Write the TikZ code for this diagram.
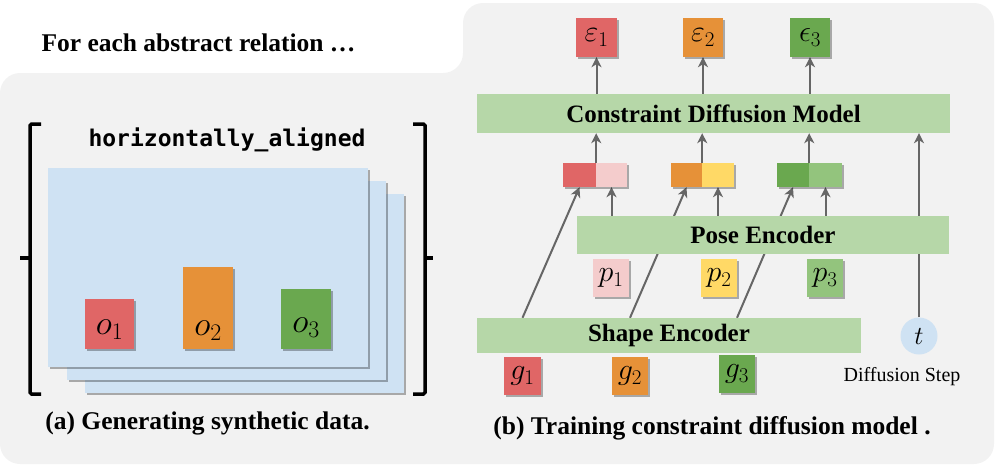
\RequirePackage{fix-cm}
\documentclass[tikz,border=0pt]{standalone}
\usepackage{fontspec}
\setmainfont{Liberation Serif}
\newfontfamily\monob{DejaVu Sans Mono}
\usetikzlibrary{arrows.meta,shadows}
\definecolor{bgray}{HTML}{F2F2F2}
\definecolor{pblue}{HTML}{CFE2F3}
\definecolor{cred}{HTML}{E06666}
\definecolor{corange}{HTML}{E69138}
\definecolor{cgreen}{HTML}{6AA84F}
\definecolor{cpink}{HTML}{F4CCCC}
\definecolor{cyellow}{HTML}{FFD966}
\definecolor{clgreen}{HTML}{93C47D}
\definecolor{encg}{HTML}{B6D7A8}
\definecolor{agray}{HTML}{666666}
\pgfdeclarelayer{bglayer}
\pgfdeclarelayer{linelayer}
\pgfsetlayers{bglayer,linelayer,main}
\tikzset{
  shad/.style={drop shadow={shadow xshift=2pt,shadow yshift=-2pt,opacity=0.3,fill=black}},
  panel/.style={fill=pblue,inner sep=0pt,shad},
  tok/.style={inner sep=0pt,shad,font=\fontsize{30}{30}\selectfont},
  enc/.style={fill=encg,inner sep=0pt,font=\fontsize{25}{28}\selectfont\bfseries},
  arr/.style={draw=agray,line width=2pt,-{Stealth[length=10pt,width=10pt,inset=3pt]}},
  brk/.style={line width=3.5pt,rounded corners=1.5pt},
  captxt/.style={font=\fontsize{25.5}{30}\selectfont\bfseries},
  olab/.style={font=\fontsize{34}{34}\selectfont}
}
\begin{document}
\begin{tikzpicture}[x=1pt,y=-1pt]
\useasboundingbox (0,0) rectangle (997,469);
\begin{pgfonlayer}{bglayer}
\fill[bgray,rounded corners=20pt] (0,464) -- (0,73) -- (463,73) -- (463,3) -- (994,3) -- (994,464) -- cycle;
\end{pgfonlayer}

% ---------- left panel ----------
\node[captxt] (title) at (198.5,43) {For each abstract relation …};
\node[font=\monob\bfseries\fontsize{23}{28}\selectfont] (rel) at (227,140) {horizontally\_aligned};
\draw[brk] (41,124) -- (30,124) -- (30,394) -- (41,394);
\draw[line width=3.5pt] (30,258) -- (20,258);
\draw[brk] (413,124) -- (425,124) -- (425,394) -- (413,394);
\draw[line width=3.5pt] (425,258) -- (433,258);

\node[panel,minimum width=319pt,minimum height=199pt] (pan3) at (244.5,293.5) {};
\node[panel,minimum width=319pt,minimum height=199pt] (pan2) at (226.5,280.5) {};
\node[panel,minimum width=320pt,minimum height=199pt] (pan1) at (208,267.5) {};

\node[fill=cred,inner sep=0pt,shad,minimum width=49pt,minimum height=50pt] (o1) at (109.5,324) {};
\node[fill=corange,inner sep=0pt,shad,minimum width=50pt,minimum height=82pt] (o2) at (208,308) {};
\node[fill=cgreen,inner sep=0pt,shad,minimum width=50pt,minimum height=60pt] (o3) at (306,319) {};
\node[olab] (lo1) at (o1.center |- 0,330) {$o_1$};
\node[olab] (lo2) at (o2.center |- 0,331) {$o_2$};
\node[olab] (lo3) at (o3.center |- 0,328) {$o_3$};

\node[captxt] (capa) at (207.5,423) {(a) Generating synthetic data.};

% ---------- right panel ----------
\node[tok,fill=cred,minimum width=41pt,minimum height=39pt] (e1) at (596.5,37.5) {$\varepsilon_1$};
\node[tok,fill=corange,minimum width=40pt,minimum height=39pt] (e2) at (703,37.5) {$\varepsilon_2$};
\node[tok,fill=cgreen,minimum width=40pt,minimum height=39pt] (e3) at (810,37.5) {$\epsilon_3$};

\node[enc,minimum width=473pt,minimum height=39pt] (cdm) at (713.5,113.5) {Constraint Diffusion Model};

\node[fill=cred,inner sep=0pt,shad,minimum width=33pt,minimum height=24pt] (c1a) at (579.5,175) {};
\node[fill=cpink,inner sep=0pt,shad,minimum width=31pt,minimum height=24pt] (c1b) at (611.5,175) {};
\node[fill=corange,inner sep=0pt,shad,minimum width=31pt,minimum height=24pt] (c2a) at (686.5,175) {};
\node[fill=cyellow,inner sep=0pt,shad,minimum width=32pt,minimum height=24pt] (c2b) at (718,175) {};
\node[fill=cgreen,inner sep=0pt,shad,minimum width=32pt,minimum height=24pt] (c3a) at (793,175) {};
\node[fill=clgreen,inner sep=0pt,shad,minimum width=33pt,minimum height=24pt] (c3b) at (825.5,175) {};

\node[enc,minimum width=372pt,minimum height=38pt] (pose) at (763,235) {Pose Encoder};

\node[tok,fill=cpink,minimum width=36pt,minimum height=38pt] (p1) at (611,278) {$p_1$};
\node[tok,fill=cyellow,minimum width=36pt,minimum height=38pt] (p2) at (719,278) {$p_2$};
\node[tok,fill=clgreen,minimum width=36pt,minimum height=38pt] (p3) at (825,278) {$p_3$};

\node[enc,minimum width=384pt,minimum height=35pt] (shape) at (669,335.5) {Shape Encoder};

\node[tok,fill=cred,minimum width=37pt,minimum height=38pt] (g1) at (522.5,376) {$g_1$};
\node[tok,fill=corange,minimum width=36pt,minimum height=38pt] (g2) at (630,376) {$g_2$};
\node[tok,fill=cgreen,minimum width=36pt,minimum height=38pt] (g3) at (737,374) {$g_3$};

\node[circle,fill=pblue,inner sep=0pt,minimum size=37pt,font=\fontsize{26}{26}\selectfont] (t) at (919,336) {$t$};
\node[font=\fontsize{20}{24}\selectfont] (dstep) at (902,377) {Diffusion Step};

\node[captxt] (capb) at (712,428) {(b) Training constraint diffusion model .};

\begin{pgfonlayer}{linelayer}
\draw[arr] (cdm.north -| e1.south) -- (e1.south);
\draw[arr] (cdm.north -| e2.south) -- (e2.south);
\draw[arr] (cdm.north -| e3.south) -- (e3.south);
\draw[arr] (c1a.north east) -- (cdm.south -| c1a.north east);
\draw[arr] (c2a.north east) -- (cdm.south -| c2a.north east);
\draw[arr] (c3a.north east) -- (cdm.south -| c3a.north east);
\draw[arr] (pose.north -| c1b.south) -- (c1b.south);
\draw[arr] (pose.north -| c2b.south) -- (c2b.south);
\draw[arr] (pose.north -| c3b.south) -- (c3b.south);
\draw[arr] (shape.north -| g1.north) -- (c1a.south);
\draw[arr] (shape.north -| g2.north) -- (c2a.south);
\draw[arr] (shape.north -| g3.north) -- (c3a.south);
\draw[arr] (t.north) -- (cdm.south -| t.north);
\end{pgfonlayer}
\end{tikzpicture}
\end{document}
